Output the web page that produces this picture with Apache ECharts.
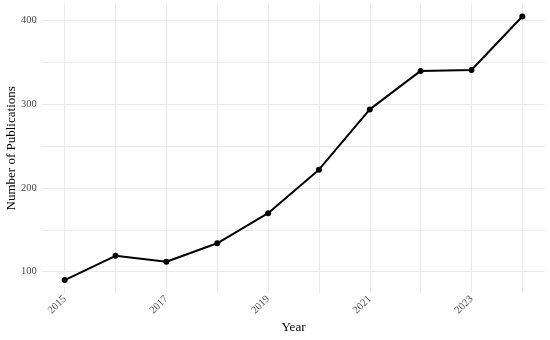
<!DOCTYPE html>
<html>
<head>
<meta charset="utf-8">
<script src="https://cdn.jsdelivr.net/npm/echarts@6/dist/echarts.min.js"></script>
<style>
html,body{margin:0;padding:0;background:#fff;}
#chart{width:550px;height:340px;}
</style>
</head>
<body>
<div id="chart"></div>
<script>
var years = [2015, 2016, 2017, 2018, 2019, 2020, 2021, 2022, 2023, 2024];
var publications = [90, 119, 112, 134, 170, 222, 294, 340, 341, 405];
var xTickLabels = [2015, 2017, 2019, 2021, 2023];
var yTickLabels = [100, 200, 300, 400];

var FONT = '"Liberation Serif", "DejaVu Serif", serif';
var xMin = 2015 - 0.05 * (2024 - 2015);
var xMax = 2024 + 0.05 * (2024 - 2015);
var yLo = Math.min.apply(null, publications), yHi = Math.max.apply(null, publications);
var yMin = yLo - 0.05 * (yHi - yLo);
var yMax = yHi + 0.05 * (yHi - yLo);

var chart = echarts.init(document.getElementById('chart'), null, {renderer: 'canvas'});
chart.setOption({
  backgroundColor: '#ffffff',
  animation: false,
  grid: {left: 41.8, right: 4.8, top: 3.3, bottom: 46.7, containLabel: false, outerBoundsMode: 'none'},
  xAxis: {
    type: 'value',
    min: xMin, max: xMax,
    splitNumber: 10,
    name: 'Year',
    nameLocation: 'middle',
    nameGap: 28,
    nameMoveOverlap: false,
    nameTextStyle: {fontFamily: FONT, fontSize: 13, color: '#000'},
    axisLine: {show: false},
    axisTick: {show: false},
    axisLabel: {
      rotate: 45,
      margin: 4,
      showMinLabel: false, showMaxLabel: false,
      fontFamily: FONT, fontSize: 10.5, color: '#4d4d4d',
      formatter: function (v) { return xTickLabels.indexOf(Math.round(v * 1000) / 1000) >= 0 ? String(v) : ''; }
    },
    splitLine: {show: true, showMinLine: false, showMaxLine: false, lineStyle: {color: '#ebebeb', width: 1}}
  },
  yAxis: {
    type: 'value',
    min: yMin, max: yMax,
    splitNumber: 7,
    name: 'Number of Publications',
    nameLocation: 'middle',
    nameGap: 24,
    nameMoveOverlap: false,
    nameTextStyle: {fontFamily: FONT, fontSize: 13, color: '#000'},
    axisLine: {show: false},
    axisTick: {show: false},
    axisLabel: {
      margin: 5,
      showMinLabel: false, showMaxLabel: false,
      fontFamily: FONT, fontSize: 10.5, color: '#4d4d4d',
      formatter: function (v) { return yTickLabels.indexOf(Math.round(v * 1000) / 1000) >= 0 ? String(v) : ''; }
    },
    splitLine: {show: true, showMinLine: false, showMaxLine: false, lineStyle: {color: '#ebebeb', width: 1}}
  },
  series: [{
    type: 'line',
    data: years.map(function (y, i) { return [y, publications[i]]; }),
    lineStyle: {color: '#000', width: 2},
    itemStyle: {color: '#000'},
    symbol: 'circle',
    symbolSize: 6,
    showSymbol: true
  }]
});
</script>
</body>
</html>
